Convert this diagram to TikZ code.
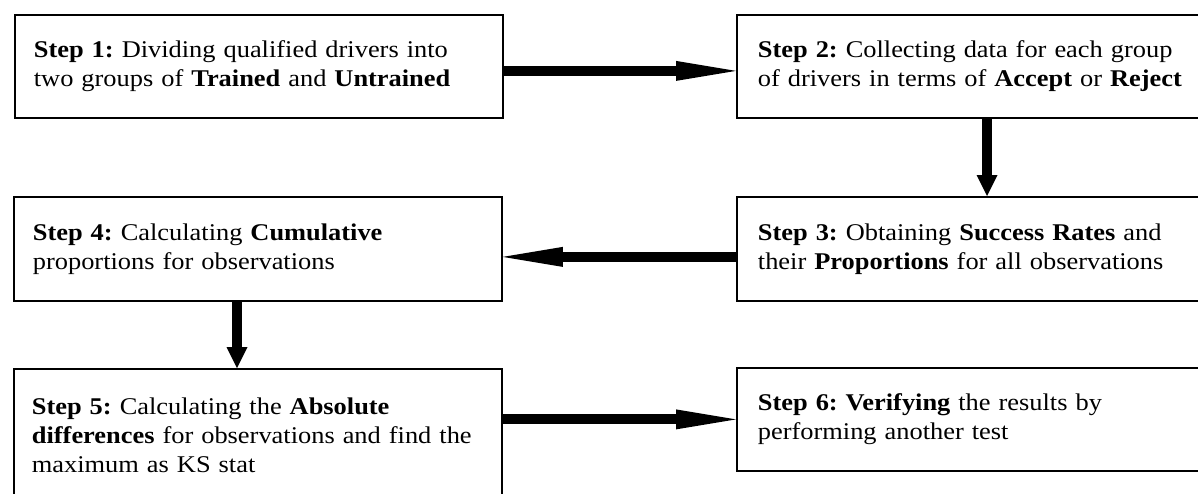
\documentclass[tikz,border=0pt]{standalone}
\usepackage{fontspec}
\setmainfont{Liberation Serif}[FakeStretch=1.1]
\usetikzlibrary{arrows.meta}
\frenchspacing

\begin{document}
\begin{tikzpicture}[
  x=1pt, y=-1pt,
  every node/.style={font=\fontsize{24}{29}\selectfont},
  stepbox/.style={draw, line width=1.8pt, anchor=north west, align=left,
    text width=450pt, inner xsep=19pt, inner ysep=0pt, minimum height=103pt},
  rightbox/.style={stepbox, inner xsep=21pt, text width=446pt},
  across/.style={line width=10pt, -{Triangle[length=60pt, width=20pt, line width=0pt]}},
  down/.style={line width=10pt, -{Triangle[length=21pt, width=21pt, line width=0pt]}}
]
\path[use as bounding box] (0,0) rectangle (1198,493);
\clip (0,0) rectangle (1198,493);

% steps
\node[stepbox] (s1) at (14,14) {\textbf{Step 1:} Dividing qualified drivers into\\two groups of \textbf{Trained} and \textbf{Untrained}};
\node[rightbox] (s2) at (736,14) {\textbf{Step 2:} Collecting data for each group\\of drivers in terms of \textbf{Accept} or \textbf{Reject}};
\node[rightbox, minimum height=104pt] (s3) at (736,196) {\textbf{Step 3:} Obtaining \textbf{Success Rates} and\\their \textbf{Proportions} for all observations};
\node[stepbox, minimum height=104pt] (s4) at (13,196) {\textbf{Step 4:} Calculating \textbf{Cumulative}\\proportions for observations};
\node[stepbox, inner xsep=18pt, text width=452pt, minimum height=132pt] (s5) at (13,368) {\textbf{Step 5:} Calculating the \textbf{Absolute}\\\textbf{differences} for observations and find the\\maximum as KS stat};
\node[rightbox] (s6) at (736,367) {\textbf{Step 6: Verifying} the results by\\performing another test};

% arrows
\draw[across] ([yshift=-4.5pt]s1.east) -- ([yshift=-4.5pt]s1.east -| s2.west);
\draw[down] ([xshift=251pt]s2.south west) -- ([xshift=251pt]s3.north west);
\draw[across] ([yshift=-8pt]s3.west) -- ([yshift=-8pt]s3.west -| s4.east);
\draw[down] ([xshift=224pt]s4.south west) -- ([xshift=224pt]s5.north west);
\draw[across] (s5.east |- s6.west) -- (s6.west);
\end{tikzpicture}
\end{document}
